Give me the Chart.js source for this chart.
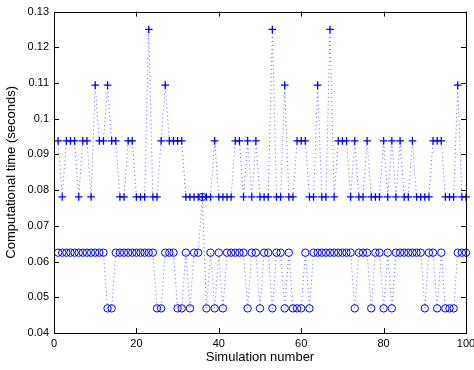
<!DOCTYPE html>
<html>
<head>
<meta charset="utf-8">
<script src="https://cdn.jsdelivr.net/npm/chart.js@4.4.1/dist/chart.umd.min.js"></script>
<style>
  html, body { margin: 0; padding: 0; background: #fff; }
  #wrap { width: 474px; height: 370px; }
</style>
</head>
<body>
<div id="wrap"><canvas id="myChart" width="474" height="370"></canvas></div>
<script>
// simulation numbers 1..100
const runs = Array.from({ length: 100 }, (_, i) => i + 1);

// '+' series (seconds)
const plusTimes = [
  0.0938, 0.0781, 0.0938, 0.0938, 0.0938, 0.0781, 0.0938, 0.0938, 0.0781, 0.1094,
  0.0938, 0.0938, 0.1094, 0.0938, 0.0938, 0.0781, 0.0781, 0.0938, 0.0938, 0.0781,
  0.0781, 0.0781, 0.125, 0.0781, 0.0781, 0.0938, 0.1094, 0.0938, 0.0938, 0.0938,
  0.0938, 0.0781, 0.0781, 0.0781, 0.0781, 0.0781, 0.0781, 0.0781, 0.0938, 0.0781,
  0.0781, 0.0781, 0.0781, 0.0938, 0.0938, 0.0781, 0.0938, 0.0781, 0.0938, 0.0781,
  0.0781, 0.0781, 0.125, 0.0781, 0.0781, 0.1094, 0.0781, 0.0781, 0.0938, 0.0938,
  0.0938, 0.0781, 0.0781, 0.1094, 0.0781, 0.0781, 0.125, 0.0781, 0.0938, 0.0938,
  0.0938, 0.0781, 0.0938, 0.0781, 0.0781, 0.0938, 0.0781, 0.0781, 0.0781, 0.0938,
  0.0781, 0.0938, 0.0781, 0.0938, 0.0781, 0.0781, 0.0938, 0.0781, 0.0781, 0.0781,
  0.0781, 0.0938, 0.0938, 0.0938, 0.0781, 0.0781, 0.0781, 0.1094, 0.0781, 0.0781
];

// 'o' series (seconds)
const circleTimes = [
  0.0625, 0.0625, 0.0625, 0.0625, 0.0625, 0.0625, 0.0625, 0.0625, 0.0625, 0.0625,
  0.0625, 0.0625, 0.0469, 0.0469, 0.0625, 0.0625, 0.0625, 0.0625, 0.0625, 0.0625,
  0.0625, 0.0625, 0.0625, 0.0625, 0.0469, 0.0469, 0.0625, 0.0625, 0.0625, 0.0469,
  0.0469, 0.0625, 0.0469, 0.0625, 0.0625, 0.0781, 0.0469, 0.0625, 0.0469, 0.0625,
  0.0469, 0.0625, 0.0625, 0.0625, 0.0625, 0.0625, 0.0469, 0.0625, 0.0625, 0.0469,
  0.0625, 0.0625, 0.0469, 0.0625, 0.0625, 0.0469, 0.0625, 0.0469, 0.0469, 0.0469,
  0.0625, 0.0469, 0.0625, 0.0625, 0.0625, 0.0625, 0.0625, 0.0625, 0.0625, 0.0625,
  0.0625, 0.0625, 0.0469, 0.0625, 0.0625, 0.0625, 0.0469, 0.0625, 0.0625, 0.0469,
  0.0625, 0.0469, 0.0625, 0.0625, 0.0625, 0.0625, 0.0625, 0.0625, 0.0625, 0.0469,
  0.0625, 0.0625, 0.0469, 0.0625, 0.0469, 0.0469, 0.0469, 0.0625, 0.0625, 0.0625
];

const xTicks = [0, 20, 40, 60, 80, 100];
const yTicks = [0.04, 0.05, 0.06, 0.07, 0.08, 0.09, 0.1, 0.11, 0.12, 0.13];

const blue = '#0000ff';
const fontFamily = "'Liberation Sans', Arial, Helvetica, sans-serif";

const toPoints = vals => vals.map((v, i) => ({ x: runs[i], y: v }));

// matlab style box + inward ticks
const boxPlugin = {
  id: 'box',
  afterDraw(chart) {
    const { ctx, chartArea: a, scales } = chart;
    ctx.save();
    ctx.strokeStyle = '#000';
    ctx.lineWidth = 1;
    ctx.beginPath();
    xTicks.forEach(t => {
      const px = Math.round(scales.x.getPixelForValue(t)) + 0.5;
      ctx.moveTo(px, a.bottom); ctx.lineTo(px, a.bottom - 5);
      ctx.moveTo(px, a.top); ctx.lineTo(px, a.top + 5);
    });
    yTicks.forEach(t => {
      const py = Math.round(scales.y.getPixelForValue(t)) + 0.5;
      ctx.moveTo(a.left, py); ctx.lineTo(a.left + 5, py);
      ctx.moveTo(a.right, py); ctx.lineTo(a.right - 5, py);
    });
    ctx.stroke();
    ctx.strokeRect(Math.round(a.left) + 0.5, Math.round(a.top) + 0.5,
      Math.round(a.right - a.left), Math.round(a.bottom - a.top));
    ctx.restore();
  }
};

const config = {
  type: 'line',
  data: {
    datasets: [{
      label: '+',
      data: toPoints(plusTimes),
      borderColor: 'rgba(0,0,255,0.6)',
      borderWidth: 1,
      borderDash: [1, 3],
      pointStyle: 'cross',
      pointRadius: 3.8,
      pointBorderColor: blue,
      pointBorderWidth: 1.3,
      pointBackgroundColor: 'rgba(0,0,0,0)',
      tension: 0,
      clip: false
    }, {
      label: 'o',
      data: toPoints(circleTimes),
      borderColor: 'rgba(0,0,255,0.6)',
      borderWidth: 1,
      borderDash: [1, 3],
      pointStyle: 'circle',
      pointRadius: 3.7,
      pointBorderColor: blue,
      pointBorderWidth: 1,
      pointBackgroundColor: 'rgba(0,0,0,0)',
      tension: 0,
      clip: false
    }]
  },
  options: {
    responsive: false,
    animation: false,
    layout: { padding: { top: 10, right: 8, left: 0, bottom: 0 } },
    plugins: {
      legend: { display: false },
      tooltip: { enabled: false }
    },
    scales: {
      x: {
        type: 'linear',
        min: 0,
        max: 100,
        afterFit: s => { s.height = 37; s.paddingLeft = 0; s.paddingRight = 0; },
        afterBuildTicks: s => { s.ticks = xTicks.map(v => ({ value: v })); },
        grid: { display: false, drawTicks: false },
        border: { display: false },
        ticks: {
          color: '#000',
          padding: 4,
          maxRotation: 0,
          font: { family: fontFamily, size: 11 }
        },
        title: {
          display: true,
          text: 'Simulation number',
          color: '#000',
          padding: { top: 0, bottom: 5 },
          font: { family: fontFamily, size: 13 }
        }
      },
      y: {
        min: 0.04,
        max: 0.13,
        afterFit: s => { s.width = 54; },
        afterBuildTicks: s => { s.ticks = yTicks.map(v => ({ value: v })); },
        grid: { display: false, drawTicks: false },
        border: { display: false },
        ticks: {
          color: '#000',
          padding: 5,
          font: { family: fontFamily, size: 11 },
          callback: v => String(Math.round(v * 100) / 100)
        },
        title: {
          display: true,
          text: 'Computational time (seconds)',
          color: '#000',
          padding: { top: 4, bottom: 0 },
          font: { family: fontFamily, size: 13 }
        }
      }
    }
  },
  plugins: [boxPlugin]
};

const myChart = new Chart(document.getElementById('myChart'), config);
</script>
</body>
</html>
